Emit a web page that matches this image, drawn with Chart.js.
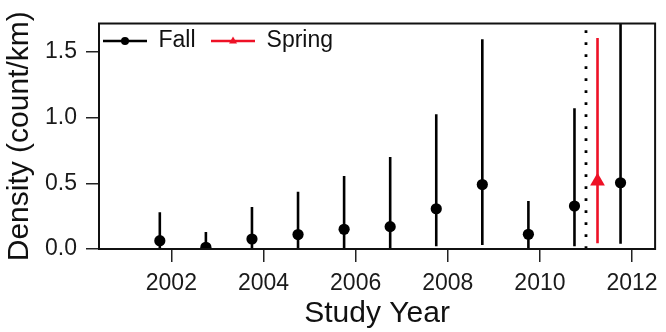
<!DOCTYPE html>
<html>
<head>
<meta charset="utf-8">
<script src="https://cdn.jsdelivr.net/npm/chart.js@4/dist/chart.umd.min.js"></script>
<style>
  html, body { margin: 0; padding: 0; background: #ffffff; }
  #wrap { width: 666px; height: 332px; }
</style>
</head>
<body>
<div id="wrap"><canvas id="c" width="666" height="332"></canvas></div>
<script>
// ---- Data ----
const fallYears   = [2001.75, 2002.75, 2003.75, 2004.75, 2005.75, 2006.75, 2007.75, 2008.75, 2009.75, 2010.75, 2011.75];
const fallDensity = [0.063, 0.013, 0.076, 0.11, 0.15, 0.17, 0.306, 0.49, 0.112, 0.327, 0.504];
const fallLower   = [0, 0, 0, 0, 0, 0, 0.02, 0.03, 0, 0.02, 0.04];
const fallUpper   = [0.28, 0.13, 0.32, 0.436, 0.555, 0.70, 1.024, 1.595, 0.365, 1.07, 2.0];

const springYears   = [2011.25];
const springDensity = [0.515];
const springLower   = [0.043];
const springUpper   = [1.605];

const dividerYear = [2011.0];

const xTickValues = [2002, 2004, 2006, 2008, 2010, 2012];
const yTickValues = [0, 0.5, 1.0, 1.5];
const xRange = [2000.43, 2012.5];
const yRange = [0, 1.715];

const seriesLabels = ['Fall', 'Spring'];
const axisTitles = { x: 'Study Year', y: 'Density (count/km)' };

// ---- helpers ----
const BLACK = '#000000';
const RED = '#ee1126';

function errorBarPoints(xs, lo, hi) {
  const pts = [];
  xs.forEach((x, i) => { pts.push({ x: x, y: lo[i] }, { x: x, y: hi[i] }, { x: x, y: null }); });
  return pts;
}
function toPoints(xs, ys) { return xs.map((x, i) => ({ x: x, y: ys[i] })); }

function legendIcon(color, shape) {
  const cv = document.createElement('canvas');
  cv.width = 44; cv.height = 14;
  const g = cv.getContext('2d');
  g.strokeStyle = color; g.lineWidth = 2.5;
  g.beginPath(); g.moveTo(0, 7); g.lineTo(44, 7); g.stroke();
  g.fillStyle = color;
  g.beginPath();
  if (shape === 'circle') {
    g.arc(22, 7, 4, 0, Math.PI * 2);
  } else {
    g.moveTo(22, 2.5); g.lineTo(26, 9.5); g.lineTo(18, 9.5); g.closePath();
  }
  g.fill();
  return cv;
}
const legendIcons = {};
legendIcons[seriesLabels[0]] = legendIcon(BLACK, 'circle');
legendIcons[seriesLabels[1]] = legendIcon(RED, 'triangle');

Chart.defaults.font.family = "'Liberation Sans', Arial, Helvetica, sans-serif";
Chart.defaults.color = '#111111';

const framePlugin = {
  id: 'frame',
  beforeDraw(chart) {
    const lg = chart.legend;
    if (lg) {
      lg.left = 87.5; lg.top = 14;
      lg.right = 660; lg.bottom = 70;
      lg.width = lg.right - lg.left; lg.height = lg.bottom - lg.top;
    }
  },
  afterDatasetsDraw(chart) {
    const a = chart.chartArea, ctx = chart.ctx;
    ctx.save();
    ctx.strokeStyle = '#111111';
    ctx.lineWidth = 2;
    ctx.strokeRect(a.left, a.top, a.right - a.left, a.bottom - a.top);
    ctx.restore();
  }
};

new Chart(document.getElementById('c'), {
  type: 'scatter',
  data: {
    datasets: [
      { label: seriesLabels[0], data: toPoints(fallYears, fallDensity), showLine: false,
        pointStyle: 'circle', pointRadius: 5.6, pointBackgroundColor: BLACK, pointBorderColor: BLACK,
        pointBorderWidth: 0, order: 0, clip: 0 },
      { label: seriesLabels[1], data: toPoints(springYears, springDensity), showLine: false,
        pointStyle: 'triangle', pointRadius: 8.5, pointBackgroundColor: RED, pointBorderColor: RED,
        pointBorderWidth: 0, order: 0, clip: 0 },
      { label: 'Fall interval', data: errorBarPoints(fallYears, fallLower, fallUpper), showLine: true,
        borderColor: BLACK, borderWidth: 2.6, pointRadius: 0, spanGaps: false, order: 1, clip: 0 },
      { label: 'Spring interval', data: errorBarPoints(springYears, springLower, springUpper), showLine: true,
        borderColor: RED, borderWidth: 2.6, pointRadius: 0, spanGaps: false, order: 1, clip: 0 },
      { label: 'Divider', data: [{ x: dividerYear[0], y: yRange[0] }, { x: dividerYear[0], y: yRange[1] }],
        showLine: true, borderColor: BLACK, borderWidth: 2.8, borderDash: [2.8, 9.2], borderCapStyle: 'butt',
        pointRadius: 0, order: 2, clip: 0 }
    ]
  },
  options: {
    responsive: false,
    animation: false,
    devicePixelRatio: 1,
    layout: { padding: { top: 23.5, right: 4, left: 0, bottom: 0 } },
    plugins: {
      tooltip: { enabled: false },
      legend: {
        display: true,
        position: 'top',
        align: 'start',
        maxHeight: 0.01,
        labels: {
          usePointStyle: true,
          pointStyleWidth: 44,
          padding: 15.5,
          color: '#111111',
          font: { size: 23 },
          generateLabels(chart) {
            return chart.data.datasets
              .map((ds, i) => ({ text: ds.label, datasetIndex: i, pointStyle: legendIcons[ds.label],
                                 fontColor: '#111111', hidden: false, lineWidth: 0,
                                 strokeStyle: 'rgba(0,0,0,0)', fillStyle: 'rgba(0,0,0,0)' }))
              .filter(it => legendIcons[it.text]);
          }
        }
      }
    },
    scales: {
      x: {
        type: 'linear',
        min: xRange[0], max: xRange[1],
        afterBuildTicks(scale) { scale.ticks = xTickValues.map(v => ({ value: v })); },
        afterFit(scale) { scale.height = 83; },
        ticks: { callback: v => String(v), font: { size: 23 }, color: '#1a1a1a', padding: 8, maxRotation: 0, autoSkip: false },
        grid: { display: true, drawOnChartArea: false, drawTicks: true, tickLength: 13, color: '#222222', lineWidth: 1.5 },
        border: { display: false },
        title: { display: true, text: axisTitles.x, font: { size: 30 }, color: '#111111', padding: { top: 0, bottom: 0 } }
      },
      y: {
        type: 'linear',
        min: yRange[0], max: yRange[1],
        afterBuildTicks(scale) { scale.ticks = yTickValues.map(v => ({ value: v })); },
        afterFit(scale) { scale.width = 99; },
        ticks: { callback: v => Number(v).toFixed(1), font: { size: 23 }, color: '#1a1a1a', padding: 9, autoSkip: false },
        grid: { display: true, drawOnChartArea: false, drawTicks: true, tickLength: 13, color: '#222222', lineWidth: 1.5 },
        border: { display: false },
        title: { display: true, text: axisTitles.y, font: { size: 30 }, color: '#111111', padding: { top: 1.5, bottom: 0 } }
      }
    }
  },
  plugins: [framePlugin]
});
</script>
</body>
</html>
